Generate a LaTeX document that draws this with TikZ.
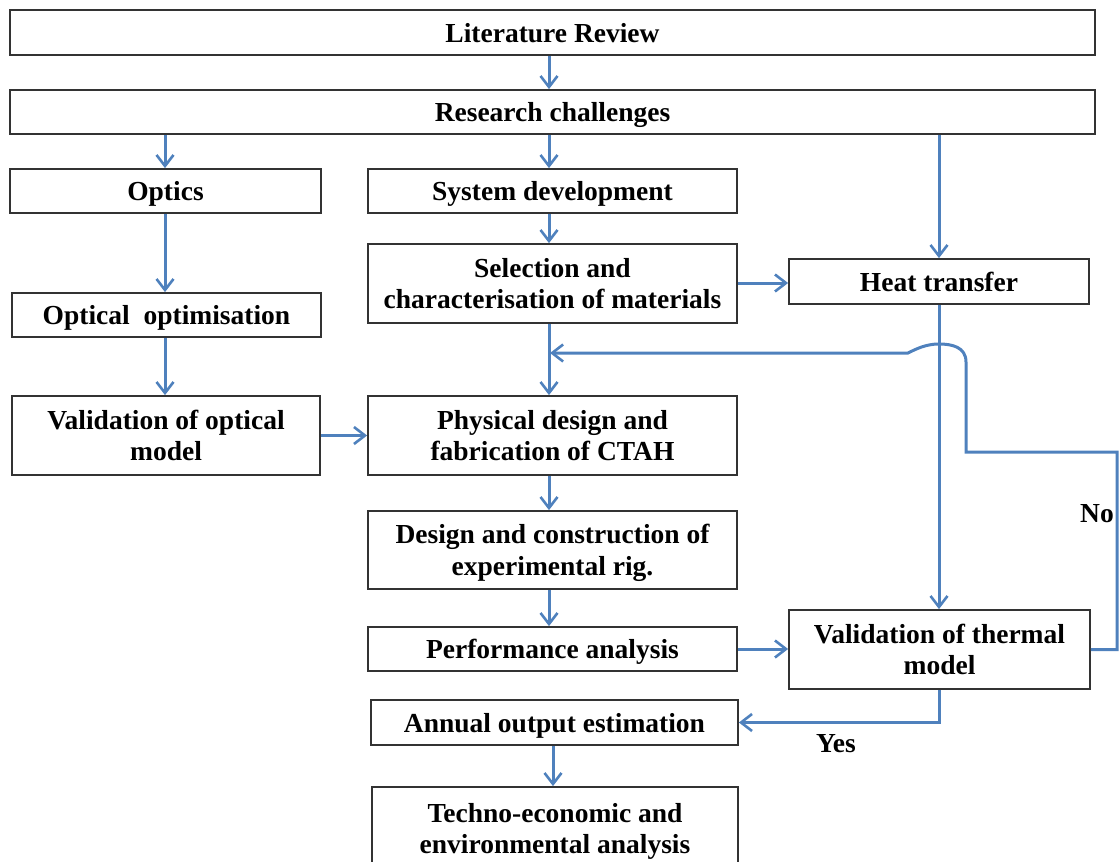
\documentclass[tikz,border=0pt]{standalone}
\usepackage{fontspec}
\setmainfont{Liberation Serif}
\usetikzlibrary{arrows.meta}
\definecolor{arrblue}{HTML}{4F81BD}
\definecolor{boxline}{HTML}{333333}
\tikzset{
  box/.style={draw=boxline, line width=1.8pt, rectangle, inner sep=0pt, align=center, text depth=0pt,
    font=\bfseries\fontsize{27.5}{31.5}\selectfont},
  arr/.style={draw=arrblue, line width=3pt, -{Straight Barb[length=11pt,width=17pt,line width=2.6pt]}},
  lbl/.style={font=\bfseries\fontsize{27.5}{31.5}\selectfont, inner sep=0pt}
}
\begin{document}
\begin{tikzpicture}[x=1pt,y=-1pt]
\useasboundingbox (0,0) rectangle (1120,862);
\node[box, minimum width=1085pt, minimum height=45pt] (lit) at (552.5,32.5) {Literature Review};
\node[box, minimum width=1085pt, minimum height=44pt] (res) at (552.5,112) {Research challenges};
\node[box, minimum width=311pt, minimum height=44pt] (opt) at (165.5,191) {Optics};
\node[box, minimum width=369pt, minimum height=44pt] (sys) at (552.5,191) {System development};
\node[box, minimum width=309pt, minimum height=44pt] (oo) at (166.5,315) {Optical\ \ optimisation};
\node[box, minimum width=369pt, minimum height=79pt] (sel) at (552.5,283.5) {Selection and\\characterisation of materials};
\node[box, minimum width=300pt, minimum height=45pt] (ht) at (939,281.5) {Heat transfer};
\node[box, minimum width=308pt, minimum height=79pt] (vom) at (166,435.5) {Validation of optical\\model};
\node[box, minimum width=369pt, minimum height=79pt] (phy) at (552.5,435.5) {Physical design and\\fabrication of CTAH};
\node[box, minimum width=369pt, minimum height=78pt] (des) at (552.5,550) {Design and construction of\\experimental rig.};
\node[box, minimum width=369pt, minimum height=44pt] (perf) at (552.5,649) {Performance analysis};
\node[box, minimum width=301pt, minimum height=79pt] (vtm) at (939.5,649.5) {Validation of thermal\\model};
\node[box, minimum width=367pt, minimum height=45pt] (ann) at (554.5,722.5) {Annual output estimation};
\node[box, minimum width=366pt, minimum height=83pt] (tec) at (555,828.5) {Techno-economic and\\environmental analysis};

\node[lbl] (no) at (1097,514) {No};
\node[lbl] (yes) at (836,744) {Yes};

% vertical arrows
\draw[arr] (lit.south -| 549,0) -- (res.north -| 549,0);
\draw[arr] (res.south -| 165,0) -- (opt.north -| 165,0);
\draw[arr] (res.south -| 549,0) -- (sys.north -| 549,0);
\draw[arr] (res.south -| ht.north) -- (ht.north);
\draw[arr] (opt.south -| 165,0) -- (oo.north -| 165,0);
\draw[arr] (oo.south -| 165,0) -- (vom.north -| 165,0);
\draw[arr] (sys.south -| 549,0) -- (sel.north -| 549,0);
\draw[arr] (sel.south -| 549,0) -- (phy.north -| 549,0);
\draw[arr] (phy.south -| 549,0) -- (des.north -| 549,0);
\draw[arr] (des.south -| 549,0) -- (perf.north -| 549,0);
\draw[arr] (ann.south -| 553,0) -- (tec.north -| 553,0);
\draw[arr] (ht.south) -- (vtm.north -| ht.south);
% horizontal arrows
\draw[arr] (sel.east |- 0,283) -- (ht.west |- 0,283);
\draw[arr] (vom.east) -- (phy.west);
\draw[arr] (perf.east) -- (vtm.west |- perf.east);
\draw[arr] (vtm.south) |- (ann.east);
% feedback loop with hop-over
\coordinate (fbend) at (550,353);
\draw[arr] (vtm.east) -- (1117,649.5) -- (1117,452) -- (966,452) -- (966,362)
  .. controls (966,347) and (952,344) .. (939,344)
  .. controls (926,344) and (916,349) .. (908,353) -- (fbend);
\end{tikzpicture}
\end{document}
